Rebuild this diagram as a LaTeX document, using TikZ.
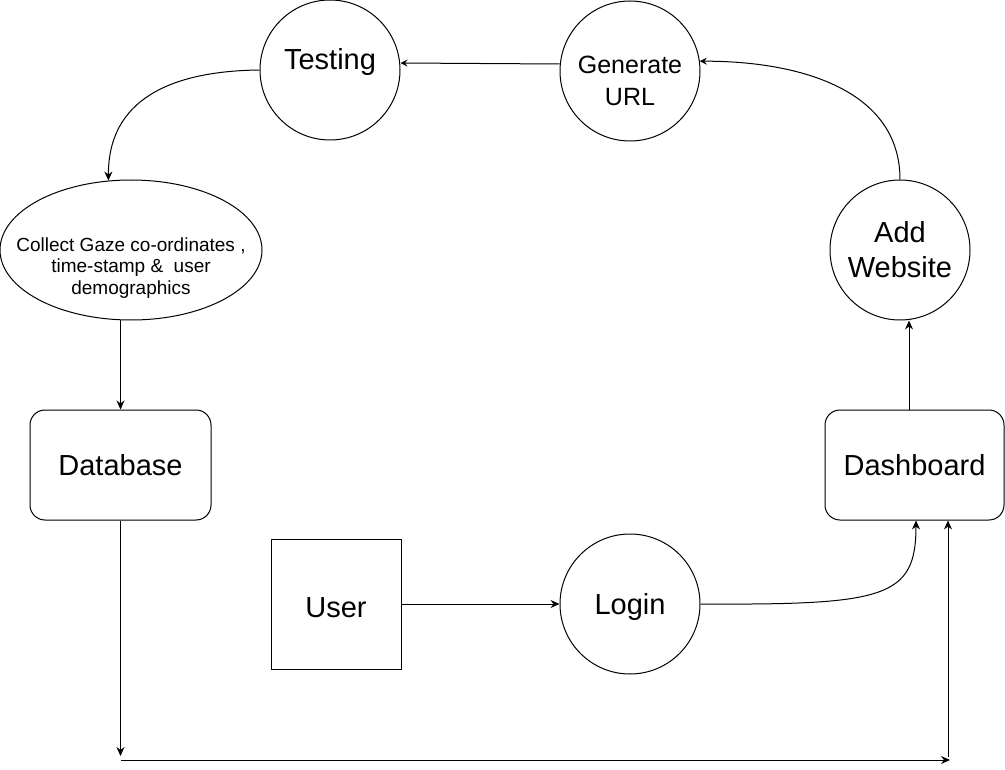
\documentclass[tikz,border=0pt]{standalone}
\usepackage{fontspec}
\setmainfont{Liberation Sans}
\usetikzlibrary{arrows.meta,shapes.geometric}
\begin{document}
\begin{tikzpicture}[x=1pt,y=-1pt,
  shp/.style={draw, line width=1pt, inner sep=0pt},
  circ/.style={shp, circle, minimum size=140pt},
  rbox/.style={shp, rounded corners=15pt, minimum width=180pt, minimum height=110pt},
  big/.style={font=\fontsize{29}{35}\selectfont, align=center},
  one/.style={big, text height=20.8pt, text depth=0pt},
  mid/.style={font=\fontsize{25}{32}\selectfont, align=center},
  small/.style={font=\fontsize{19}{21.5}\selectfont, align=center},
  arr/.style={line width=1pt, -{Stealth[length=9pt,width=8pt,inset=3pt]}},
  sarr/.style={line width=1pt, -{Stealth[length=7pt,width=7pt,inset=2.5pt]}},
]
\useasboundingbox (0,0) rectangle (1005,770);

% nodes
\node[circ, label={[big,name=testT,yshift=8pt]center:Testing}] (test) at (330,70) {};
\node[circ, label={[mid,name=genT,yshift=-10pt]center:Generate\\URL}] (gen) at (630,71) {};
\node[circ, label={[big,name=addT]center:Add\\Website}] (add) at (900,250) {};
\node[shp, ellipse, minimum width=262pt, minimum height=140pt,
      label={[small,name=collT,yshift=-18pt]center:Collect Gaze co-ordinates ,\\time-stamp \&\ \ user\\demographics}] (coll) at (131,250) {};
\node[rbox, one, minimum width=181pt] (db) at (120.5,465) {Database};
\node[rbox, one, minimum width=179pt] (dash) at (914.5,465) {Dashboard};
\node[shp, one, minimum size=130pt, label={[one,name=userT,yshift=-3pt]center:User}] (user) at (336,604) {};
\node[circ, one] (login) at (630,604) {Login};

\coordinate (c1) at (120.5,756);
\coordinate (c2) at (120.5,760);
\coordinate (c3) at (950,760);
\coordinate (c4) at (948,757);

% connectors
\draw[sarr] ([yshift=7pt]gen.west) -- ([yshift=7pt]test.east);
\draw[arr] (test.west) .. controls (170,71) and (108,100) .. (coll.108.5);
\draw[sarr] (add.north) .. controls (900,90) and (800,61) .. (gen.8);
\draw[arr] ([xshift=-5.5pt]dash.north) -- ([xshift=9pt]add.south);
\draw[arr] (coll.south -| db.north) -- (db.north);
\draw[arr] (db.south) -- (c1);
\draw[arr] (c2) -- (c3);
\draw[arr] (c4) -- ([xshift=33.5pt]dash.south);
\draw[arr] (user.east) -- (login.west);
\draw[arr] (login.east) .. controls (885,605) and (916,598) .. ([xshift=1.5pt]dash.south);
\end{tikzpicture}
\end{document}
